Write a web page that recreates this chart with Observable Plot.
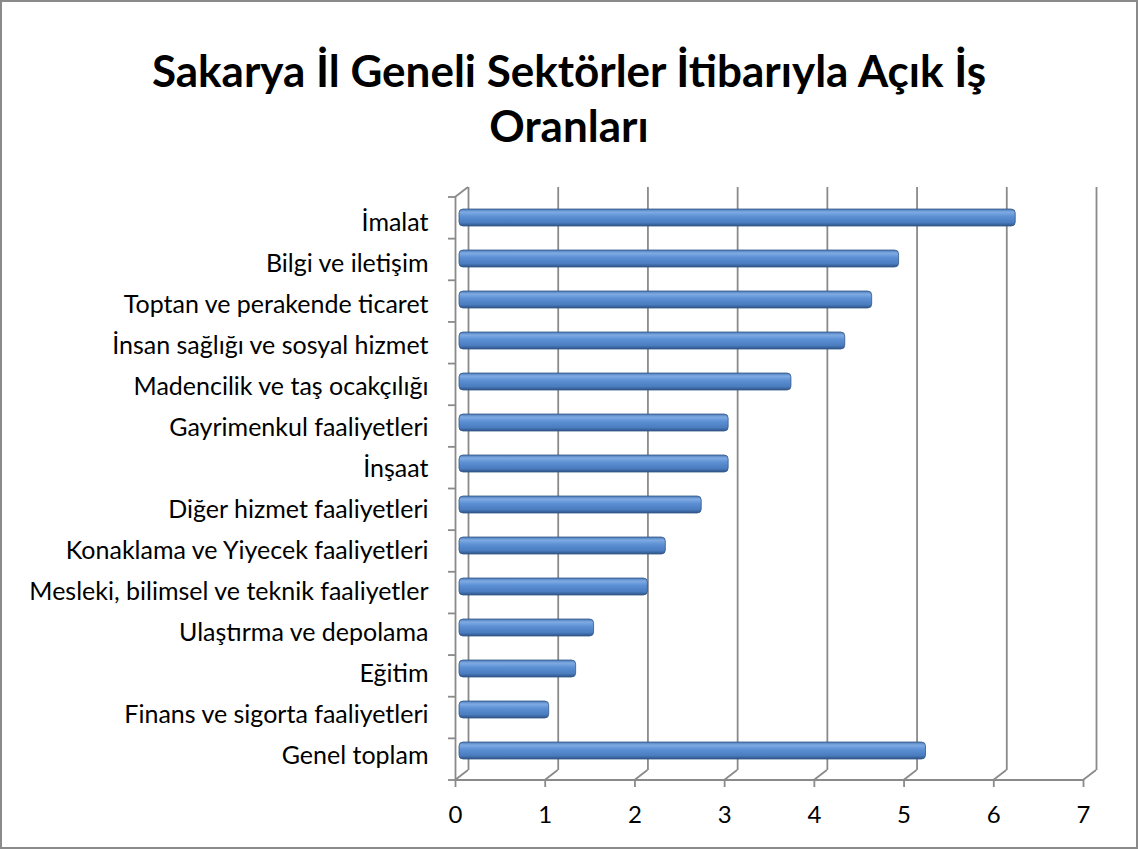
<!DOCTYPE html>
<html><head><meta charset="utf-8">
<script src="https://cdn.jsdelivr.net/npm/d3@7"></script>
<script src="https://cdn.jsdelivr.net/npm/@observablehq/plot@0.6"></script>
<style>
body{margin:0;background:#fff;}
#frame{position:absolute;left:0;top:0;width:1138px;height:849px;box-sizing:border-box;border:2px solid #8a8a8a;}
#title{position:absolute;left:0;top:43px;width:1138px;text-align:center;font-family:Lato;font-weight:bold;font-size:44px;line-height:55px;color:#000}
#chart{position:absolute;left:0;top:160px;}
</style></head><body>
<div id="frame"></div>
<div id="title">Sakarya İl Geneli Sektörler İtibarıyla Açık İş<br>Oranları</div>
<div id="chart"></div>
<script>
const sectors = [
  "İmalat",
  "Bilgi ve iletişim",
  "Toptan ve perakende ticaret",
  "İnsan sağlığı ve sosyal hizmet",
  "Madencilik ve taş ocakçılığı",
  "Gayrimenkul faaliyetleri",
  "İnşaat",
  "Diğer hizmet faaliyetleri",
  "Konaklama ve Yiyecek faaliyetleri",
  "Mesleki, bilimsel ve teknik faaliyetler",
  "Ulaştırma ve depolama",
  "Eğitim",
  "Finans ve sigorta faaliyetleri",
  "Genel toplam"
];
const rates = [6.2, 4.9, 4.6, 4.3, 3.7, 3.0, 3.0, 2.7, 2.3, 2.1, 1.5, 1.3, 1.0, 5.2];
const xTicks = [0, 1, 2, 3, 4, 5, 6, 7];

const data = sectors.map((s, i) => ({sector: s, rate: rates[i]}));
const gridColor = "#8a8a8a";
const depthX = 13, depthY = 10;

const plot = Plot.plot({
  width: 1138,
  height: 689,
  marginLeft: 455,
  marginRight: 55,
  marginTop: 37,
  marginBottom: 69,
  style: {fontFamily: "Lato", color: "#000", background: "transparent"},
  x: {domain: [0, 7]},
  y: {domain: sectors, padding: 0},
  marks: [
    // back wall gridlines
    Plot.ruleX(xTicks, {x: d => d, dx: depthX, dy: -depthY, stroke: gridColor, strokeWidth: 1.8}),
    // front left wall edge
    Plot.ruleX([0], {x: d => d, stroke: gridColor, strokeWidth: 1.8}),
    // 3D decorations: floor diagonals, front axis line, top diagonal, band ticks
    Plot.ruleX(xTicks, {
      x: d => d,
      render(index, scales, values, dims) {
        const g = d3.create("svg:g").attr("stroke", gridColor).attr("stroke-width", 1.8).attr("fill", "none");
        const top = dims.marginTop, bottom = dims.height - dims.marginBottom;
        const x0 = scales.x(xTicks[0]), xEnd = scales.x(xTicks[xTicks.length - 1]);
        for (const i of index) {
          const x = values.x[i];
          g.append("line").attr("x1", x).attr("y1", bottom).attr("x2", x + depthX).attr("y2", bottom - depthY);
        }
        g.append("line").attr("x1", x0).attr("y1", bottom).attr("x2", xEnd).attr("y2", bottom);
        g.append("line").attr("x1", x0).attr("y1", top).attr("x2", x0 + depthX).attr("y2", top - depthY);
        const step = (bottom - top) / sectors.length;
        for (let k = 0; k <= sectors.length; k++) {
          const y = top + k * step;
          g.append("line").attr("x1", x0 - 7).attr("y1", y).attr("x2", x0).attr("y2", y);
        }
        return g.node();
      }
    }),
    Plot.barX(data, {
      x: "rate", y: "sector",
      fill: "url(#barGrad)", stroke: "#35598a", strokeWidth: 0.8,
      insetTop: 12, insetBottom: 12, dx: 4, dy: -5, rx: 4
    }),
    Plot.axisY({tickSize: 0, tickPadding: 27, fontSize: 25, label: null}),
    Plot.axisX({ticks: xTicks, tickFormat: "d", tickSize: 7, tickPadding: 18, fontSize: 24, label: null, stroke: gridColor, strokeWidth: 1.8})
  ]
});

const svg = d3.select(plot);
const grad = svg.insert("defs", ":first-child").append("linearGradient")
  .attr("id", "barGrad").attr("x1", 0).attr("y1", 0).attr("x2", 0).attr("y2", 1);
[["0%", "#4a78b5"], ["18%", "#7fabe3"], ["45%", "#5b8fd3"], ["80%", "#4a7cbf"], ["100%", "#2e5386"]]
  .forEach(([o, c]) => grad.append("stop").attr("offset", o).attr("stop-color", c));

document.getElementById("chart").appendChild(plot);
</script>
</body></html>
